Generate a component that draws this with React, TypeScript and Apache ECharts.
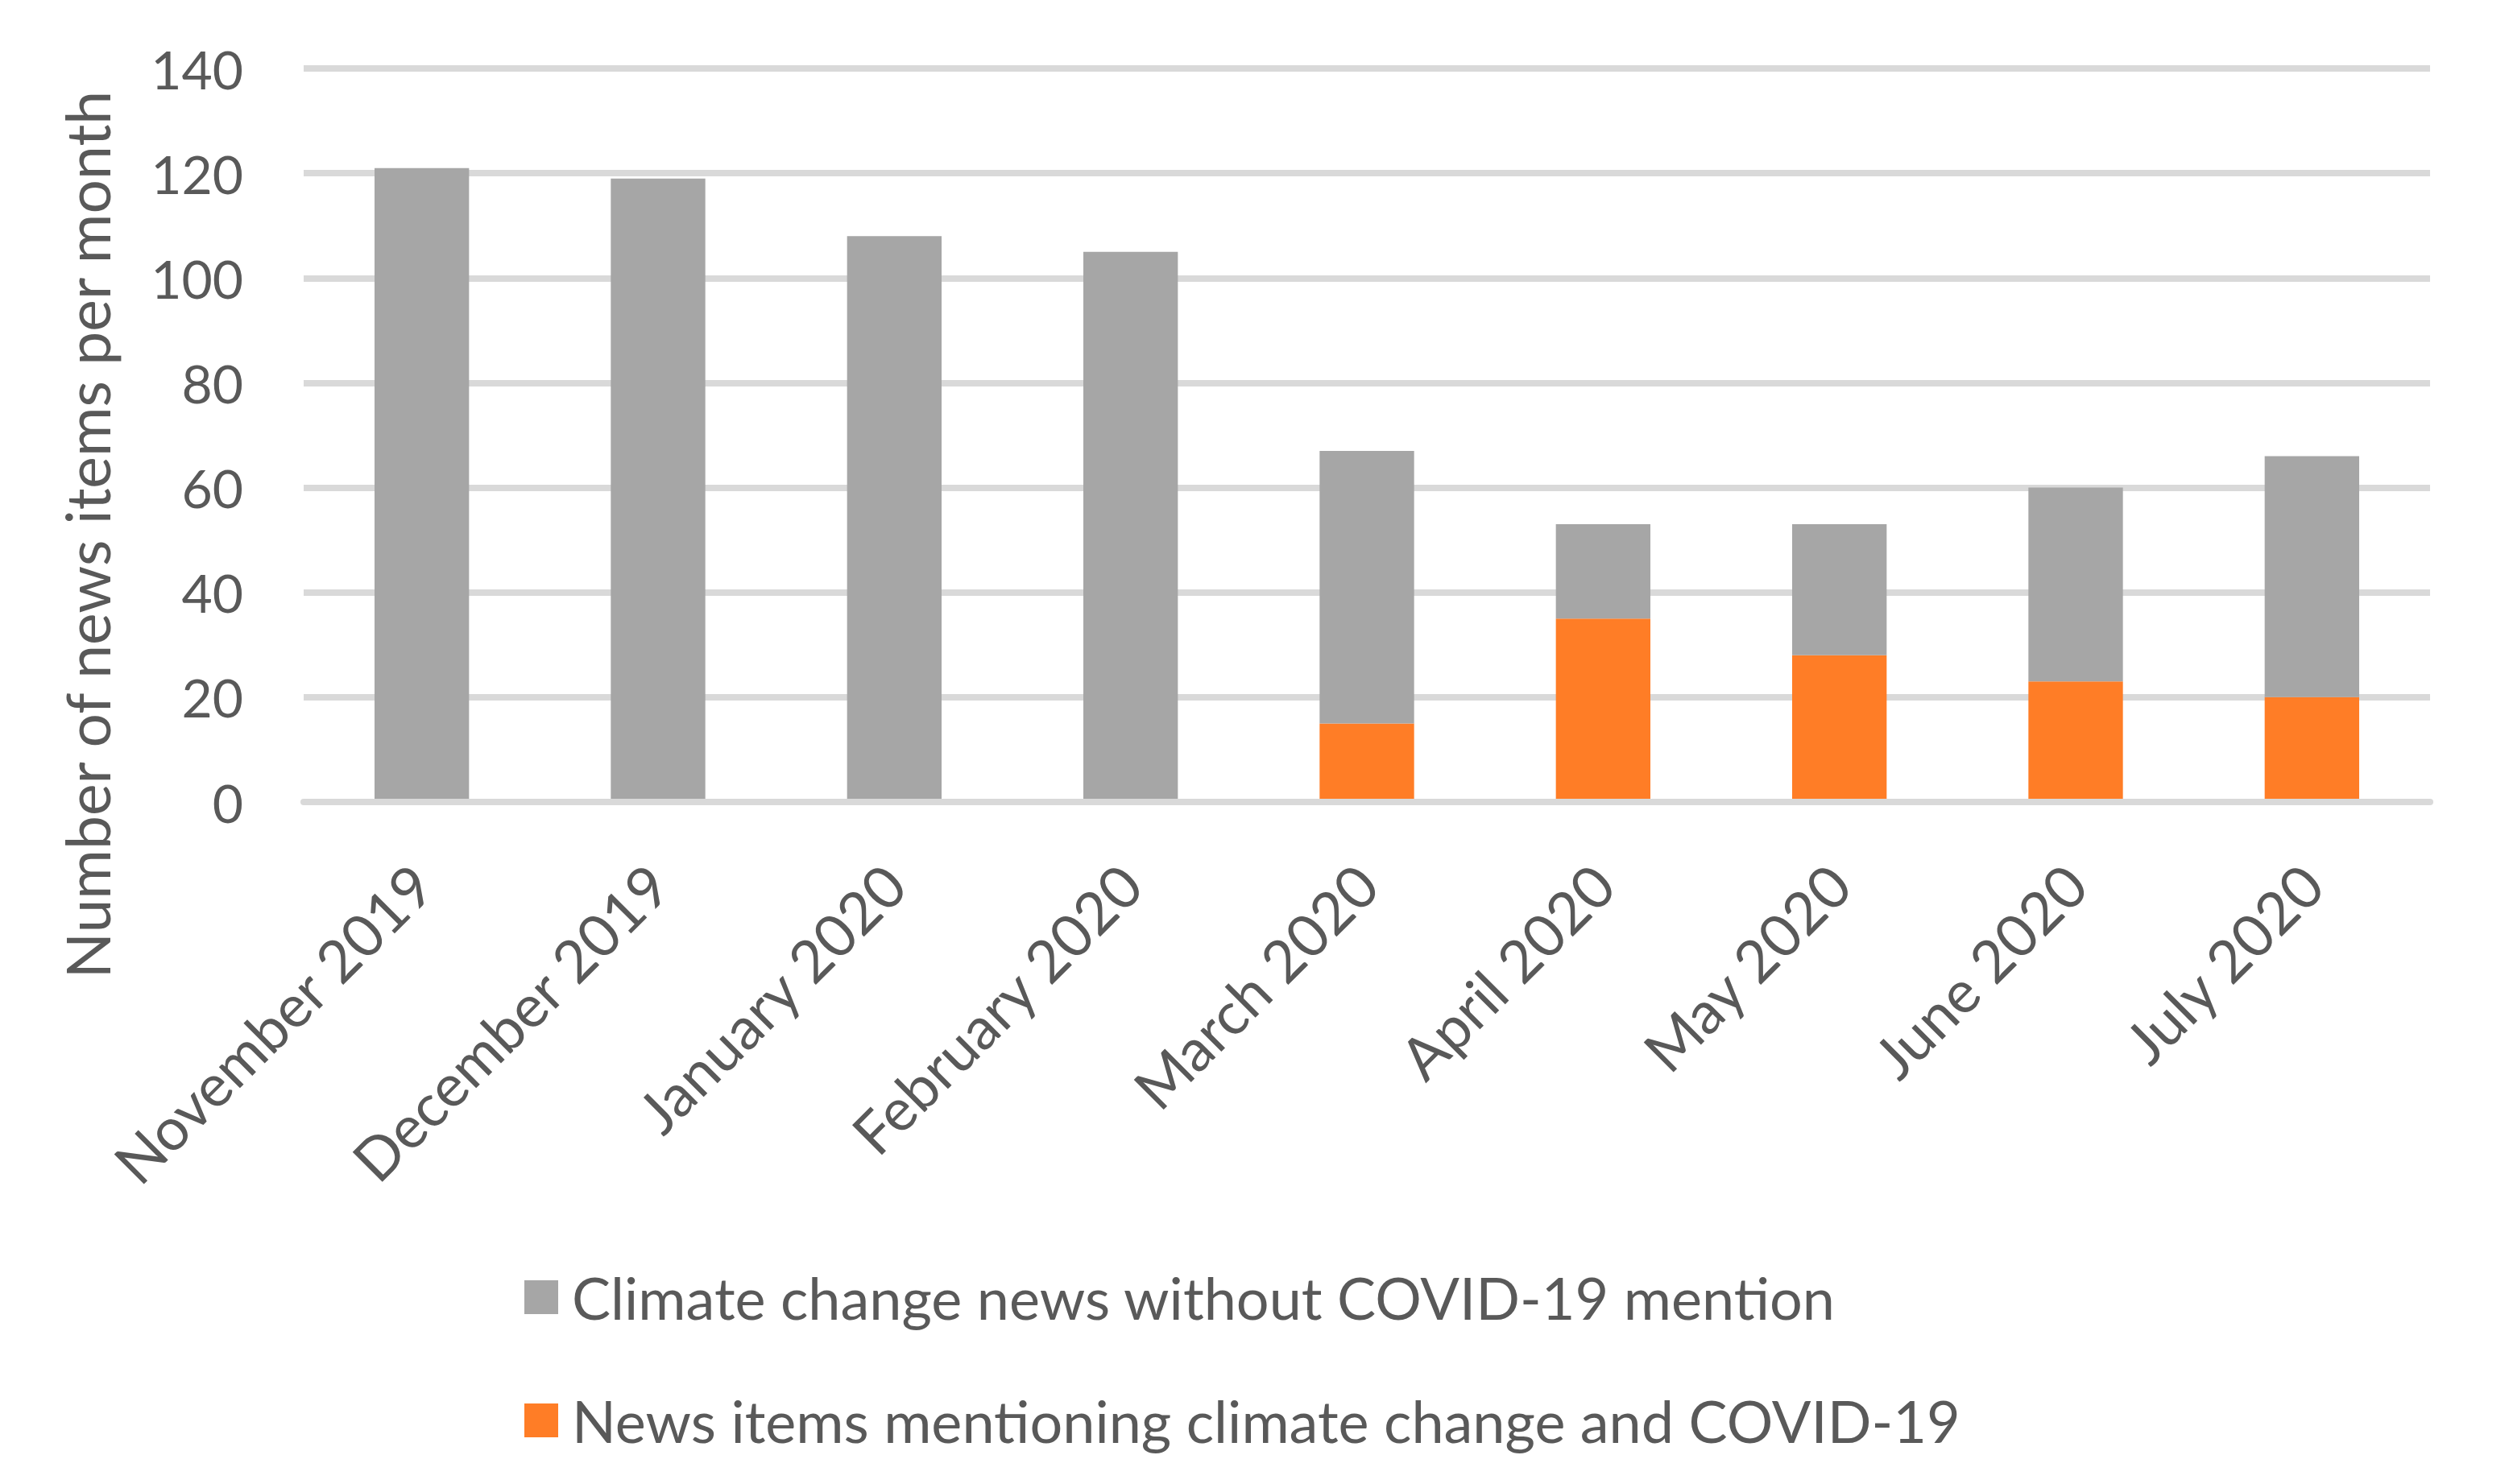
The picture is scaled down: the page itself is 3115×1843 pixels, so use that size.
import React, { useEffect, useRef } from "react";
import * as echarts from "echarts";

const categories = [
  "November 2019",
  "December 2019",
  "January 2020",
  "February 2020",
  "March 2020",
  "April 2020",
  "May 2020",
  "June 2020",
  "July 2020",
];
const withCovid = [0, 0, 0, 0, 15, 35, 28, 23, 20];
const withoutCovid = [121, 119, 108, 105, 52, 18, 25, 37, 46];
const nameWithout = "Climate change news without COVID-19 mention";
const nameWith = "News items mentioning climate change and COVID-19";
const yTitle = "Number of news items per month";

const FONT = "Lato";
const TEXT = "#595959";

export default function App() {
  const ref = useRef<HTMLDivElement>(null);
  useEffect(() => {
    document.body.style.margin = "0";
    const chart = echarts.init(ref.current!, null, { renderer: "svg" });
    chart.setOption({
      animation: false,
      backgroundColor: "#ffffff",
      textStyle: { fontFamily: FONT, color: TEXT },
      grid: { left: 377, right: 98, top: 85, bottom: 847, containLabel: false },
      xAxis: {
        type: "category",
        data: categories,
        z: 5,
        axisLine: { show: true, lineStyle: { color: "#d9d9d9", width: 8 } },
        axisTick: { show: false },
        axisLabel: {
          rotate: 45,
          margin: 90,
          fontSize: 73,
          fontFamily: FONT,
          color: TEXT,
          interval: 0,
        },
      },
      yAxis: {
        type: "value",
        min: 0,
        max: 140,
        interval: 20,
        axisLine: { show: false },
        axisTick: { show: false },
        splitLine: { lineStyle: { color: "#d9d9d9", width: 8 } },
        axisLabel: { fontSize: 66, fontFamily: FONT, color: TEXT, margin: 75 },
      },
      legend: {
        orient: "vertical",
        left: 646,
        top: 1566,
        itemWidth: 42,
        itemHeight: 42,
        itemGap: 73,
        icon: "rect",
        data: [nameWithout, nameWith],
        textStyle: {
          fontSize: 72,
          fontFamily: FONT,
          color: TEXT,
          lineHeight: 80,
          padding: [0, 0, 0, 12],
        },
      },
      graphic: [
        {
          type: "text",
          x: 108,
          y: 664,
          rotation: Math.PI / 2,
          style: {
            text: yTitle,
            fontSize: 75,
            fontFamily: FONT,
            fill: TEXT,
            align: "center",
            verticalAlign: "middle",
          },
        },
      ],
      series: [
        {
          name: nameWith,
          type: "bar",
          stack: "total",
          barWidth: "40%",
          data: withCovid,
          itemStyle: { color: "#ff7d26" },
        },
        {
          name: nameWithout,
          type: "bar",
          stack: "total",
          barWidth: "40%",
          data: withoutCovid,
          itemStyle: { color: "#a6a6a6" },
        },
      ],
    });
    return () => chart.dispose();
  }, []);
  return <div ref={ref} style={{ width: 3115, height: 1843 }} />;
}
